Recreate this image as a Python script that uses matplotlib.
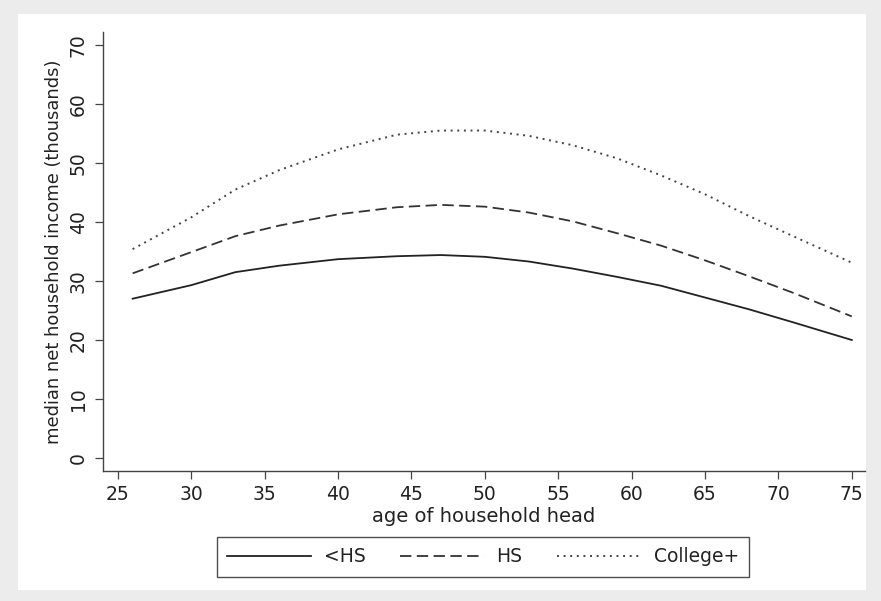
import matplotlib
matplotlib.use("Agg")
import matplotlib.pyplot as plt
from matplotlib.patches import Rectangle

plt.rcParams['font.family'] = ['DejaVu Sans']

ages = [26, 30, 33, 36, 40, 44, 47, 50, 53, 56, 59, 62, 65, 68, 71, 75]
less_hs = [27.0, 29.3, 31.5, 32.6, 33.7, 34.2, 34.4, 34.1, 33.3, 32.1, 30.7, 29.2, 27.2, 25.2, 23.0, 20.0]
hs = [31.3, 34.9, 37.6, 39.4, 41.3, 42.5, 42.9, 42.6, 41.6, 40.1, 38.1, 36.0, 33.5, 30.8, 28.0, 24.0]
college = [35.4, 40.8, 45.5, 48.8, 52.3, 54.8, 55.5, 55.5, 54.6, 53.0, 50.8, 47.9, 44.7, 41.0, 37.6, 33.1]
series_labels = ['<HS', 'HS', 'College+']
x_ticks = [25, 30, 35, 40, 45, 50, 55, 60, 65, 70, 75]
y_ticks = [0, 10, 20, 30, 40, 50, 60, 70]

FS = 13.5
W, H = 881, 601
fig = plt.figure(figsize=(W / 100, H / 100), dpi=100, facecolor='#ececec')
fig.patches.append(Rectangle((18 / W, 1 - 590 / H), (866 - 18) / W, (590 - 14) / H,
                             transform=fig.transFigure, facecolor='white',
                             edgecolor='none', zorder=-10))

ax = fig.add_axes([103 / W, 1 - 471 / H, (865 - 103) / W, (471 - 32) / H])
ax.set_facecolor('white')

l1, = ax.plot(ages, less_hs, color='#222222', lw=1.3, linestyle='-')
l2, = ax.plot(ages, hs, color='#333333', lw=1.3, linestyle=(0, (6.3, 3.0)))
l3, = ax.plot(ages, college, color='#444444', lw=1.4, linestyle=(0, (1, 2.4)))

ax.set_xlim(23.98, 75.9)
ax.set_ylim(-2.2, 72.2)
ax.set_xticks(x_ticks)
ax.set_yticks(y_ticks)
ax.set_xticklabels([str(v) for v in x_ticks], fontsize=FS, color='#222222')
ax.set_yticklabels([str(v) for v in y_ticks], fontsize=FS, color='#222222',
                   rotation=90, va='center')
ax.tick_params(axis='x', direction='out', length=6, width=0.9, color='#444444', pad=4)
ax.tick_params(axis='y', direction='out', length=6, width=0.9, color='#444444', pad=5)

for s in ['top', 'right']:
    ax.spines[s].set_visible(False)
for s in ['left', 'bottom']:
    ax.spines[s].set_color('#444444')
    ax.spines[s].set_linewidth(1.0)

ax.set_xlabel('age of household head', fontsize=FS + 0.5, color='#222222', labelpad=2)
ax.set_ylabel('median net household income (thousands)', fontsize=12.9, color='#222222', labelpad=4)

leg = fig.legend([l1, l2, l3], series_labels, loc='upper center',
                 bbox_to_anchor=(483 / W, 1 - 537 / H), ncol=3, fontsize=FS,
                 frameon=True, fancybox=False, handlelength=4.5, handletextpad=0.65,
                 columnspacing=1.85, borderpad=0.55, borderaxespad=0)
leg.get_frame().set_edgecolor('#222222')
leg.get_frame().set_linewidth(1.0)
for t in leg.get_texts():
    t.set_color('#222222')

fig.savefig('out.png', dpi=100, facecolor=fig.get_facecolor())
